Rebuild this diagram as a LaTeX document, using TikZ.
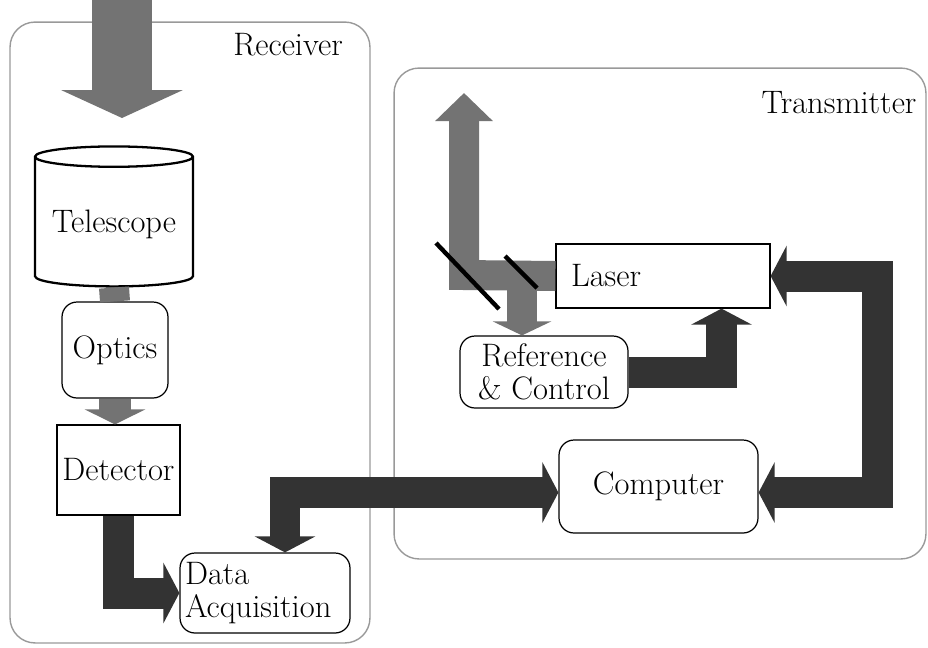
\documentclass[tikz,border=0pt]{standalone}
\usetikzlibrary{shapes.geometric, positioning, calc, arrows.meta}

\begin{document}
\begin{tikzpicture}[
    x=0.02cm, y=-0.02cm,
    font=\fontsize{18.5}{19}\selectfont,
    >={Triangle[width=1.2cm,length=0.32cm]},
    group/.style={rectangle, draw=black!40, line width=0.8pt, rounded corners=0.5cm},
    block/.style={rectangle, draw, line width=0.7pt, fill=white},
    soft/.style={block, rounded corners=0.3cm},
    beam/.style={draw=black!55, line width=0.6cm, line join=miter},
    link/.style={draw=black!80, line width=0.62cm, line join=miter},
    mirror/.style={draw=black, line width=2.5pt}
]
\useasboundingbox (0,0) rectangle (928,647);

% Frames
\node[group, minimum width=7.2cm, minimum height=12.42cm] (rx) at (190,332.5) {};
\node[group, minimum width=10.64cm, minimum height=9.82cm] (tx) at (660,313.5) {};
\node (rxlabel) at (288,45) {Receiver};
\node (txlabel) at (839,103) {Transmitter};

% Receiver
\node[cylinder, shape border rotate=90, draw, line width=1.3pt, aspect=0.15,
      minimum width=3.16cm, minimum height=2.8cm] (telescope) at (114,224) {Telescope};
\node[soft, minimum width=2.12cm, minimum height=1.92cm] (optics) at (115,350) {Optics};
\node[block, minimum width=2.46cm, minimum height=1.8cm, inner sep=1pt] (detector) at (118.5,470) {Detector};
\node[soft, minimum width=3.4cm, minimum height=1.6cm, text width=3.2cm, inner xsep=0.1cm, align=left] (daq) at (265,593) {Data\\Acquisition};

% Transmitter
\node[block, text width=3.68cm, inner xsep=0.3cm, minimum height=1.28cm, align=left] (laser) at (663,276) {Laser};
\node[soft, minimum width=3.36cm, minimum height=1.44cm, inner ysep=1pt, align=center] (refctl) at (544,372) {Reference\\\& Control};
\node[soft, minimum width=3.98cm, minimum height=1.86cm] (computer) at (658.5,486.5) {Computer};

% Beam points
\coordinate (sky) at (122,0);
\coordinate (focus) at (122,118);
\coordinate (fold) at (464,275);
\coordinate (exit) at (464,93);
\coordinate (split) at (522,275);
\coordinate (loop) at (877.5,0);

% Light path
\draw[beam, line width=1.22cm, -{Triangle[width=2.42cm,length=0.56cm]}] (sky) -- (focus);
\draw[beam] (telescope.south) -- (optics.north);
\draw[beam, line width=0.64cm, -{Triangle[width=1.2cm,length=0.3cm]}] (optics.south) -- (optics.south |- detector.north);
\draw[beam, -{Triangle[width=1.12cm,length=0.56cm]}] (laser.west) -- (fold) -- (exit);
\draw[beam, -{Triangle[width=1.16cm,length=0.28cm]}] (split) -- (split |- refctl.north);

% Mirrors
\draw[mirror] (436,243) -- (499,309);
\draw[mirror] (505,256) -- (537,288);

% Signals
\draw[link, ->] (detector.south) |- (daq.west);
\draw[link, <->] ([yshift=-0.12cm]computer.west) -| ([xshift=0.4cm]daq.north);
\draw[link, ->] (refctl.east) -| ([xshift=1.17cm]laser.south);
\draw[link, <->] ([yshift=-0.12cm]computer.east) -| (laser.east -| loop) -- (laser.east);

\end{tikzpicture}
\end{document}
